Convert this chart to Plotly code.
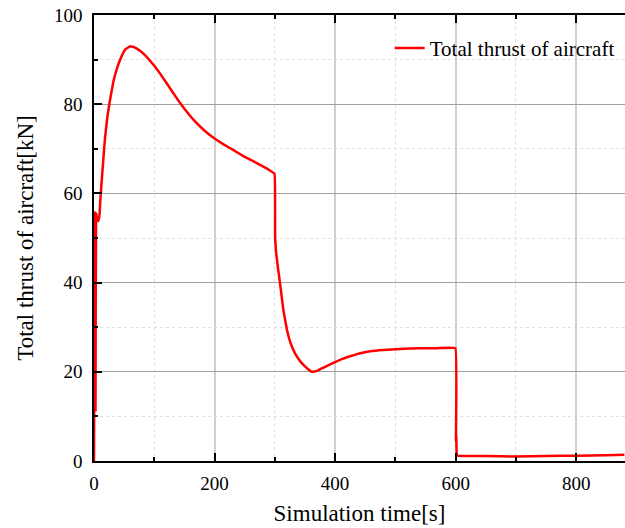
import plotly.graph_objects as go

time_s = [0, 1.5, 2.5, 3.5, 5, 7, 9, 11, 14, 18, 22, 26, 32, 38, 45, 52, 60, 68, 78, 88,
          100, 110, 120, 130, 140, 150, 160, 170, 180, 190, 200, 215, 230, 250, 270, 290, 299.5,
          300.5, 302, 305, 309, 314, 320, 326, 334, 342, 350, 361, 370, 380, 397, 410, 425, 440,
          458, 480, 508, 540, 570, 599.5, 600.5, 601, 602, 604, 650, 700, 750, 800, 850, 880]
thrust_kN = [0, 55.8, 11.4, 55.5, 54.5, 53.8, 55, 59.5, 65, 72, 77, 80.5, 85, 88, 90.5, 92.3, 93, 92.7, 91.8, 90.5,
             88.6, 86.8, 84.8, 82.8, 80.8, 79.0, 77.3, 75.8, 74.5, 73.3, 72.3, 71.0, 69.8, 68.2, 66.8, 65.3, 64.4,
             50, 47, 43.5, 39.5, 34, 29.5, 26.5, 24, 22.4, 21.2, 20.0, 20.2, 20.9, 22, 22.8, 23.5, 24.1,
             24.6, 24.9, 25.1, 25.3, 25.3, 25.3, 4.5, 6, 1.3, 1.2, 1.1, 1.0, 1.1, 1.2, 1.3, 1.4]

series_name = "Total thrust of aircraft"
x_title = "Simulation time[s]"
y_title = "Total thrust of aircraft[kN]"

FONT = "Liberation Serif, Times New Roman, serif"

fig = go.Figure()
fig.add_trace(go.Scatter(x=time_s, y=thrust_kN, mode="lines", name=series_name,
                         line=dict(color="#ff0000", width=2.5, shape="spline", smoothing=0.2)))

fig.update_layout(
    width=625, height=528,
    margin=dict(l=94, r=0, t=15, b=67),
    paper_bgcolor="white", plot_bgcolor="white",
    font=dict(family=FONT, size=19, color="black"),
    showlegend=True,
    legend=dict(x=0.99, y=0.925, xanchor="right", yanchor="middle",
                bgcolor="rgba(0,0,0,0)", font=dict(size=21, family=FONT)),
)

fig.update_xaxes(
    range=[0, 881], tickvals=[0, 200, 400, 600, 800],
    showline=True, linecolor="black", linewidth=1.5, mirror="ticks",
    ticks="inside", ticklen=8, tickwidth=1.5, tickcolor="black",
    showgrid=True, gridcolor="#d0d0d0", gridwidth=2,
    minor=dict(tickvals=[100, 300, 500, 700], ticks="inside", ticklen=4, tickcolor="black",
               showgrid=True, gridcolor="#e0e0e0", griddash="dot", gridwidth=1),
    zeroline=False,
    ticklabelstandoff=4,
    title=dict(text=x_title, font=dict(size=23, family=FONT), standoff=12),
    tickfont=dict(size=19, family=FONT),
)
fig.update_yaxes(
    range=[0, 100], tickvals=[0, 20, 40, 60, 80, 100],
    showline=True, linecolor="black", linewidth=1.5, mirror=False,
    ticks="inside", ticklen=8, tickwidth=1.5, tickcolor="black",
    showgrid=True, gridcolor="#a0a0a0", gridwidth=1,
    minor=dict(tickvals=[10, 30, 50, 70, 90], ticks="inside", ticklen=4, tickcolor="black",
               showgrid=True, gridcolor="#e0e0e0", griddash="dot", gridwidth=1),
    zeroline=False,
    ticklabelstandoff=6,
    title=dict(text=y_title, font=dict(size=23, family=FONT), standoff=14),
    tickfont=dict(size=19, family=FONT),
)

fig.write_html("out.html")
